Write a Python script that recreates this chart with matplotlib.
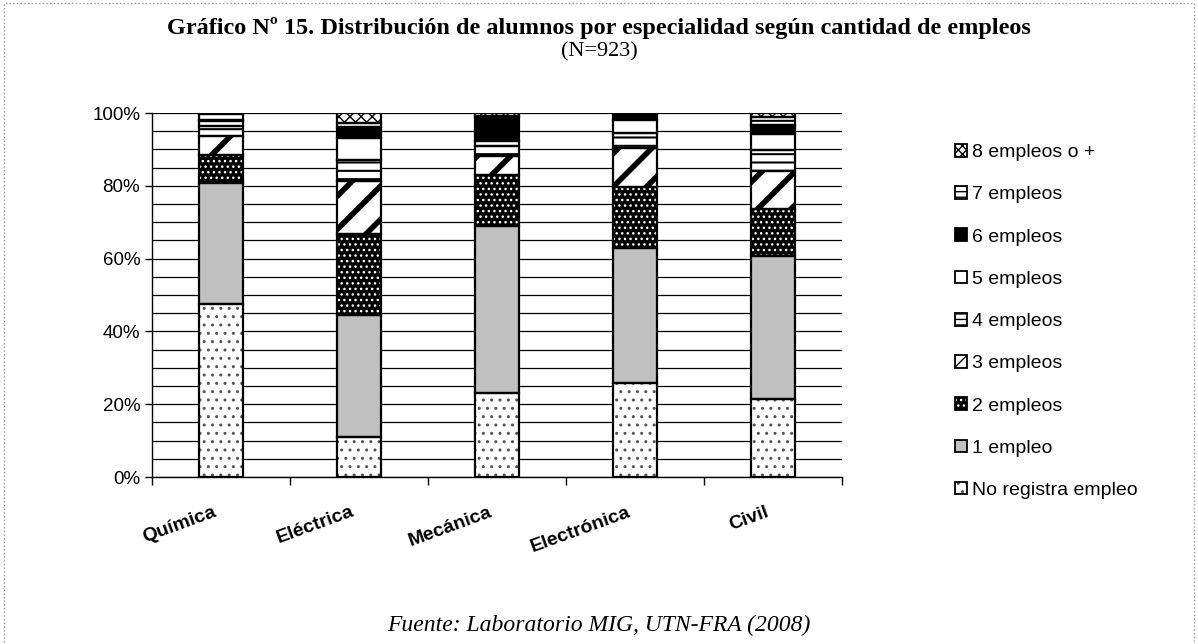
import numpy as np
import matplotlib
matplotlib.use('Agg')
import matplotlib.pyplot as plt
import matplotlib.transforms as mtrans
from matplotlib.patches import Patch, Rectangle
from matplotlib.legend_handler import HandlerTuple

especialidades = ['Química', 'Eléctrica', 'Mecánica', 'Electrónica', 'Civil']
series = ['No registra empleo', '1 empleo', '2 empleos', '3 empleos', '4 empleos',
          '5 empleos', '6 empleos', '7 empleos', '8 empleos o +']

no_registra = [47.6, 10.9, 23.0, 25.8, 21.4]
empleo_1 = [33.2, 33.5, 46.0, 37.1, 39.4]
empleos_2 = [7.7, 22.3, 14.0, 16.9, 12.8]
empleos_3 = [5.3, 14.7, 5.1, 10.6, 10.4]
empleos_4 = [2.7, 5.8, 2.8, 4.1, 5.9]
empleos_5 = [1.3, 5.8, 1.5, 3.7, 4.3]
empleos_6 = [0.4, 3.2, 6.4, 1.8, 2.4]
empleos_7 = [1.4, 1.1, 0.3, 0.0, 2.2]
empleos_8 = [0.4, 2.7, 0.9, 0.0, 1.2]
valores = [no_registra, empleo_1, empleos_2, empleos_3, empleos_4,
           empleos_5, empleos_6, empleos_7, empleos_8]

# (fondo, color del trama, trama en barra, trama en leyenda)
estilos = [('white', '#555555', '..', '..'),
           ('#c0c0c0', '#c0c0c0', None, None),
           ('black', 'white', '...', '...'),
           ('white', 'black', '/', '///'),
           ('white', 'black', '--', '---'),
           ('white', 'white', None, None),
           ('black', 'black', None, None),
           ('white', 'black', '--', '---'),
           ('white', 'black', 'xxx', 'xxxx')]
grosor = [1.0, 1.0, 1.0, 4.0, 1.5, 1.0, 1.0, 1.5, 1.0]

matplotlib.rc('font', family=['Liberation Sans', 'DejaVu Sans'])

fig = plt.figure(figsize=(11.98, 6.44), dpi=100)
ax = fig.add_axes([152/1198, 1-477/644, 690/1198, 364/644])

x = np.arange(len(especialidades))
ancho = 0.32
base = np.zeros(len(especialidades))
handles = []
for vals, (fc, hc, h, hl), lw, nombre in zip(valores, estilos, grosor, series):
    vals = np.array(vals)
    with plt.rc_context({'hatch.linewidth': lw}):
        barras = ax.bar(x, vals, ancho, bottom=base, color=fc, edgecolor=hc,
                        hatch=h, linewidth=0, zorder=3)
        for b in barras:
            if hasattr(b, 'set_hatch_linewidth'):
                b.set_hatch_linewidth(lw)
        ax.bar(x, vals, ancho, bottom=base, fill=False, edgecolor='black',
               linewidth=1.6, zorder=4)
        p1 = Patch(facecolor=fc, edgecolor=hc, hatch=hl, linewidth=0)
        if hasattr(p1, 'set_hatch_linewidth'):
            p1.set_hatch_linewidth(min(lw, 1.5))
    p2 = Patch(fill=False, edgecolor='black', linewidth=1.3)
    handles.append((p1, p2))
    base += vals

ax.set_xlim(-0.5, len(especialidades) - 0.5)
ax.set_ylim(0, 100)
ax.set_yticks(np.arange(0, 101, 20))
ax.set_yticklabels([f'{v}%' for v in range(0, 101, 20)], fontsize=13.5)
ax.set_yticks(np.arange(0, 101, 5), minor=True)
ax.yaxis.grid(True, which='both', color='black', linewidth=0.9, zorder=0)
ax.tick_params(axis='y', which='minor', length=0)
ax.tick_params(axis='y', which='major', length=5, width=1, direction='out')

ax.set_xticks(x)
ax.set_xticklabels(especialidades, rotation=20, ha='right', rotation_mode='anchor',
                   fontsize=14, fontweight='bold')
ax.tick_params(axis='x', which='major', length=0, pad=19)
ax.set_xticks(np.arange(-0.5, len(especialidades)), minor=True)
ax.tick_params(axis='x', which='minor', length=6, width=1, direction='out')
desplaza = mtrans.ScaledTranslation(-8/100, 0, fig.dpi_scale_trans)
for lab in ax.get_xticklabels():
    lab.set_transform(lab.get_transform() + desplaza)

for s in ['top', 'right']:
    ax.spines[s].set_visible(False)
ax.spines['left'].set_linewidth(1)
ax.spines['bottom'].set_linewidth(1)
ax.set_axisbelow(True)

ax.legend(handles[::-1], series[::-1],
          handler_map={tuple: HandlerTuple(ndivide=1, pad=0)},
          loc='upper left', bbox_to_anchor=(955/1198, 1-144/644),
          bbox_transform=fig.transFigure, frameon=False, fontsize=14,
          handlelength=0.62, handleheight=0.62, handletextpad=0.25,
          labelspacing=1.29, borderaxespad=0, borderpad=0)

fig.text(0.5, 1-28/644, 'Gráfico Nº 15. Distribución de alumnos por especialidad según cantidad de empleos',
         ha='center', va='center', fontsize=17.5, fontweight='bold',
         family='Liberation Serif')
fig.text(0.5, 1-52/644, '(N=923)', ha='center', va='center', fontsize=16,
         family='Liberation Serif')
fig.text(0.5, 1-625/644, 'Fuente: Laboratorio MIG, UTN-FRA (2008)', ha='center',
         va='center', fontsize=17, style='italic', family='Liberation Serif')

fig.add_artist(Rectangle((4/1198, -0.01), 1190/1198, 1-3/644 + 0.01,
                         transform=fig.transFigure, fill=False,
                         edgecolor='#999999', linestyle=':', linewidth=1))

fig.savefig('out.png', dpi=100)
